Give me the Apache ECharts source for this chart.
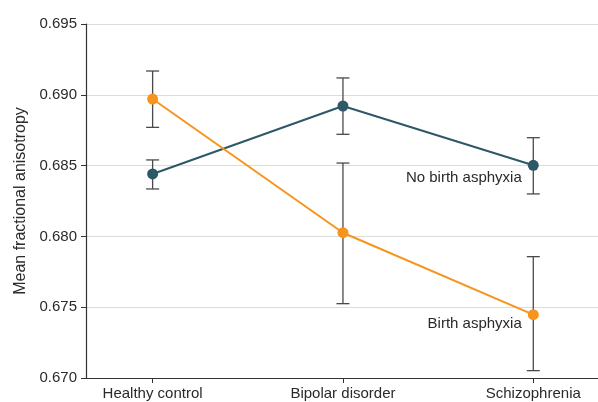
<!DOCTYPE html>
<html lang="en">
<head>
    <meta charset="UTF-8">
    <title>Mean fractional anisotropy</title>
    <script src="https://cdn.jsdelivr.net/npm/echarts@6/dist/echarts.min.js"></script>
    <style>
        html, body { margin: 0; padding: 0; background: #fff; }
        #chart { width: 598px; height: 402px; }
    </style>
</head>
<body>
    <div id="chart"></div>
    <script>
        // data
        var categories = ['Healthy control', 'Bipolar disorder', 'Schizophrenia'];
        var noAsphyxiaMean = [0.68441, 0.68921, 0.68502];
        var noAsphyxiaLow = [0.68335, 0.68721, 0.68300];
        var noAsphyxiaHigh = [0.68540, 0.69119, 0.68697];
        var asphyxiaMean = [0.68970, 0.68026, 0.67447];
        var asphyxiaLow = [0.68770, 0.67525, 0.67052];
        var asphyxiaHigh = [0.69168, 0.68518, 0.67857];
        var yTicks = [0.670, 0.675, 0.680, 0.685, 0.690, 0.695];

        var font = '"Liberation Sans", Arial, sans-serif';
        var textColor = '#2a2a2a';
        var teal = '#2d5867';
        var orange = '#f7941d';

        var chart = echarts.init(document.getElementById('chart'));

        // mean points, with the series name written beside the last one
        function pointData(means, labelText, dy) {
            return means.map(function (v, i) {
                var item = { value: [i, v] };
                if (i === means.length - 1) {
                    item.label = {
                        show: true,
                        formatter: labelText,
                        position: 'left',
                        distance: 6,
                        offset: [0, dy],
                        color: textColor,
                        fontSize: 15,
                        fontFamily: font
                    };
                }
                return item;
            });
        }

        function errorData(low, high) {
            return low.map(function (v, i) { return [i, v, high[i]]; });
        }

        function renderError(params, api) {
            var lo = api.coord([api.value(0), api.value(1)]);
            var hi = api.coord([api.value(0), api.value(2)]);
            var w = 6.5;
            var style = { stroke: '#4a4a4a', lineWidth: 1.3 };
            return {
                type: 'group',
                children: [
                    { type: 'line', shape: { x1: lo[0], y1: lo[1], x2: hi[0], y2: hi[1] }, style: style },
                    { type: 'line', shape: { x1: lo[0] - w, y1: lo[1], x2: lo[0] + w, y2: lo[1] }, style: style },
                    { type: 'line', shape: { x1: hi[0] - w, y1: hi[1], x2: hi[0] + w, y2: hi[1] }, style: style }
                ]
            };
        }

        var option = {
            animation: false,
            grid: { left: 86, right: 0, top: 24, bottom: 24 },
            xAxis: {
                type: 'value',
                min: -0.35,
                max: 2.34,
                splitLine: { show: false },
                axisLine: { show: true, onZero: false, lineStyle: { color: '#333', width: 1.2 } },
                axisTick: { show: true, customValues: [0, 1, 2], length: 5, lineStyle: { color: '#333' } },
                axisLabel: {
                    customValues: [0, 1, 2],
                    formatter: function (v) { return categories[Math.round(v)]; },
                    color: textColor,
                    fontSize: 15,
                    fontFamily: font,
                    margin: 8
                }
            },
            yAxis: {
                type: 'value',
                min: yTicks[0],
                max: yTicks[yTicks.length - 1],
                interval: 0.005,
                name: 'Mean fractional anisotropy',
                nameLocation: 'middle',
                nameGap: 56,
                nameTextStyle: { color: textColor, fontSize: 16, fontFamily: font },
                axisLine: { show: true, onZero: false, lineStyle: { color: '#333', width: 1.2 } },
                axisTick: { show: true, length: 5, lineStyle: { color: '#333' } },
                splitLine: { lineStyle: { color: '#dcdcdc', width: 1.2 } },
                axisLabel: {
                    formatter: function (v) { return v.toFixed(3); },
                    color: textColor,
                    fontSize: 15,
                    fontFamily: font,
                    margin: 9
                }
            },
            series: [
                {
                    type: 'custom',
                    renderItem: renderError,
                    data: errorData(noAsphyxiaLow, noAsphyxiaHigh),
                    z: 1
                },
                {
                    type: 'custom',
                    renderItem: renderError,
                    data: errorData(asphyxiaLow, asphyxiaHigh),
                    z: 1
                },
                {
                    name: 'No birth asphyxia',
                    type: 'line',
                    data: pointData(noAsphyxiaMean, 'No birth asphyxia', 13),
                    symbol: 'circle',
                    symbolSize: 11,
                    lineStyle: { color: teal, width: 2 },
                    itemStyle: { color: teal },
                    z: 3
                },
                {
                    name: 'Birth asphyxia',
                    type: 'line',
                    data: pointData(asphyxiaMean, 'Birth asphyxia', 9),
                    symbol: 'circle',
                    symbolSize: 11,
                    lineStyle: { color: orange, width: 2 },
                    itemStyle: { color: orange },
                    z: 3
                }
            ]
        };

        chart.setOption(option);
    </script>
</body>
</html>
